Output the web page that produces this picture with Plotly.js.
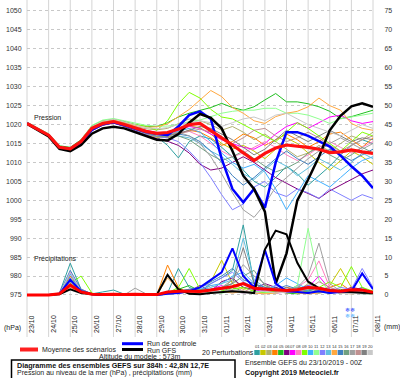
<!DOCTYPE html>
<html><head><meta charset="utf-8">
<script src="https://cdn.plot.ly/plotly-3.0.1.min.js"></script>
<style>html,body{margin:0;padding:0;background:#fff;}#c{width:400px;height:378px;}</style>
</head><body><div id="c"></div>
<script>
// ---- data ----
const hours = [0,12,24,36,48,60,72,84,96,108,120,132,144,156,168,180,192,204,216,228,240,252,264,276,288,300,312,324,336,348,360,372,384];
const dateLabels = ['23/10','24/10','25/10','26/10','27/10','28/10','29/10','30/10','31/10','01/11','02/11','03/11','04/11','05/11','06/11','07/11','08/11'];
const pertNames = ['01','02','03','04','05','06','07','08','09','10','11','12','13','14','15','16','17','18','19','20'];
const pertColors = ['#2f9fa0','#c8c800','#b0b070','#ff8000','#20c020','#800080','#ff00ff','#ff80c0','#80ff00','#40b0ff','#90ff90','#8080ff','#60c0e0','#ffa840','#4080c0','#70a080','#a0a0a0','#c09090','#808080','#c8c8c8'];

const p01 = [1020.5,1019.0,1017.4,1014.3,1013.2,1015.8,1019.4,1020.6,1021.0,1020.2,1019.3,1018.0,1016.8,1014.5,1011.2,1015.5,1017.0,1016.2,1014.0,1011.5,1008.0,1005.0,1003.5,1006.0,1009.0,1007.0,1004.0,1006.5,1009.0,1012.0,1014.5,1016.0,1015.0];
const p02 = [1020.2,1018.6,1017.0,1013.8,1013.8,1015.2,1018.6,1020.0,1020.6,1019.6,1018.4,1017.4,1016.6,1016.8,1018.0,1019.6,1019.2,1017.5,1015.0,1013.5,1014.5,1013.0,1011.0,1013.5,1016.5,1015.0,1012.5,1010.0,1008.0,1010.5,1013.0,1011.5,1009.5];
const p03 = [1020.4,1018.9,1017.3,1014.1,1013.4,1015.6,1019.2,1020.6,1021.2,1020.4,1019.5,1018.9,1018.6,1019.0,1020.2,1021.5,1021.0,1020.0,1018.5,1019.5,1018.0,1016.0,1017.5,1015.5,1013.5,1011.5,1012.5,1014.5,1013.0,1015.0,1017.0,1016.0,1018.0];
const p04 = [1020.3,1018.7,1017.1,1013.9,1013.7,1015.4,1018.8,1020.2,1020.7,1019.8,1018.6,1017.6,1016.9,1016.5,1017.5,1018.5,1018.0,1016.5,1014.5,1015.5,1017.5,1016.5,1014.5,1016.0,1017.5,1016.0,1014.0,1015.5,1017.5,1018.0,1016.0,1014.0,1016.5];
const p05 = [1020.6,1019.1,1017.5,1014.4,1014.0,1016.0,1019.6,1021.0,1021.4,1020.8,1020.0,1019.5,1019.5,1020.5,1022.0,1023.0,1023.8,1024.5,1025.6,1024.5,1023.8,1024.7,1026.5,1028.2,1026.0,1026.0,1025.5,1024.7,1023.5,1021.6,1022.1,1023.0,1023.8];
const p06 = [1020.1,1018.5,1016.9,1013.6,1013.9,1015.0,1018.4,1019.8,1020.4,1019.5,1018.3,1017.2,1016.3,1015.6,1014.5,1012.5,1009.5,1008.0,1008.5,1010.0,1011.5,1010.0,1008.0,1006.0,1004.5,1003.0,1001.8,1000.5,1002.5,1004.0,1005.5,1007.0,1008.0];
const p07 = [1020.4,1018.9,1017.2,1014.2,1013.5,1015.7,1019.1,1020.4,1020.9,1020.1,1019.2,1018.5,1017.9,1017.6,1018.4,1019.5,1019.0,1017.5,1016.0,1015.0,1014.0,1013.5,1015.0,1017.5,1019.5,1020.5,1019.0,1020.5,1022.0,1022.5,1021.0,1020.3,1020.8];
const p08 = [1020.2,1018.7,1017.1,1013.7,1013.9,1015.3,1018.7,1020.1,1020.6,1019.7,1018.7,1017.8,1017.2,1017.0,1017.8,1018.2,1017.0,1015.0,1013.0,1011.5,1012.5,1014.0,1015.5,1014.0,1012.0,1010.5,1012.0,1014.0,1015.5,1014.0,1012.5,1014.0,1015.5];
const p09 = [1020.5,1019.0,1017.3,1014.2,1013.4,1015.9,1019.5,1020.9,1021.3,1020.6,1020.0,1019.6,1018.5,1021.0,1025.5,1028.5,1027.0,1024.0,1022.0,1021.5,1020.0,1018.5,1017.0,1015.5,1018.0,1020.5,1019.0,1017.0,1015.0,1013.0,1015.5,1018.0,1017.0];
const p10 = [1020.3,1018.8,1017.2,1014.0,1013.6,1015.4,1018.9,1020.2,1020.7,1019.9,1018.8,1017.9,1017.3,1017.4,1018.2,1019.0,1018.0,1015.5,1012.5,1010.0,1008.5,1009.5,1007.5,1003.0,997.5,1002.0,1006.5,1005.0,1003.5,1006.0,1008.5,1010.5,1011.5];
const p11 = [1020.6,1019.1,1017.6,1014.5,1013.0,1016.0,1019.8,1021.2,1021.6,1021.0,1020.3,1019.8,1019.6,1019.6,1020.0,1020.8,1021.2,1022.2,1023.0,1023.5,1023.8,1023.8,1024.3,1024.3,1023.0,1023.0,1022.5,1021.5,1020.3,1021.5,1022.1,1022.5,1023.0];
const p12 = [1020.2,1018.7,1017.0,1013.8,1013.8,1015.3,1018.7,1020.0,1020.5,1019.6,1018.5,1017.5,1016.8,1016.5,1015.5,1013.0,1010.0,1006.0,1001.5,997.5,999.0,1003.5,1005.0,1002.0,1001.0,1003.0,1002.0,1000.5,1003.0,1001.5,1000.0,1001.5,1000.5];
const p13 = [1020.4,1018.9,1017.3,1014.2,1013.4,1015.7,1019.2,1020.5,1021.0,1020.2,1019.2,1018.3,1017.7,1017.5,1017.0,1016.5,1015.0,1013.0,1011.5,1009.5,1007.0,1005.5,1008.0,1010.5,1009.0,1006.5,1008.5,1011.0,1009.5,1008.0,1010.0,1012.5,1011.0];
const p14 = [1020.5,1019.0,1017.4,1014.3,1013.3,1015.8,1019.4,1020.8,1021.3,1020.6,1019.8,1019.3,1019.4,1020.2,1022.0,1024.0,1026.5,1029.0,1027.4,1024.5,1023.0,1021.0,1020.3,1022.1,1023.0,1023.5,1024.7,1027.0,1025.0,1023.8,1020.3,1019.0,1018.5];
const p15 = [1020.3,1018.8,1017.1,1013.9,1013.7,1015.5,1018.9,1020.3,1020.8,1019.9,1018.9,1018.0,1017.4,1017.2,1017.5,1017.0,1015.5,1013.0,1010.0,1006.5,1004.0,1006.0,1008.5,1011.0,1013.0,1011.0,1009.5,1011.5,1013.5,1012.0,1010.5,1012.0,1013.5];
const p16 = [1020.1,1018.6,1017.0,1013.7,1013.9,1015.1,1018.5,1019.9,1020.5,1019.6,1018.6,1017.7,1017.0,1016.7,1017.0,1016.0,1014.0,1012.0,1010.5,1011.5,1013.0,1011.0,1009.0,1007.5,1008.5,1010.0,1012.5,1014.0,1012.0,1010.5,1012.0,1014.0,1012.5];
const p17 = [1020.4,1018.9,1017.3,1014.1,1013.5,1015.6,1019.1,1020.4,1020.9,1020.1,1019.1,1018.2,1017.6,1017.5,1018.0,1017.0,1015.0,1011.5,1007.0,1002.0,997.5,995.5,999.0,1003.5,1006.0,1008.5,1011.0,1013.0,1015.0,1016.5,1015.0,1013.5,1015.0];
const p18 = [1020.2,1018.6,1017.0,1013.8,1013.8,1015.2,1018.6,1020.0,1020.5,1019.7,1018.7,1017.9,1017.4,1017.2,1017.6,1018.2,1018.8,1018.0,1016.5,1015.0,1016.5,1018.5,1019.0,1017.0,1015.5,1016.5,1018.0,1016.5,1014.5,1013.0,1014.5,1016.0,1017.0];
const p19 = [1020.3,1018.8,1017.2,1014.0,1013.6,1015.5,1019.0,1020.3,1020.8,1020.0,1019.0,1018.1,1017.5,1017.3,1017.6,1018.5,1019.5,1019.0,1017.5,1016.0,1014.0,1012.0,1013.5,1016.0,1018.5,1017.0,1015.5,1017.0,1018.5,1017.0,1015.5,1016.5,1016.0];
const p20 = [1020.5,1019.0,1017.4,1014.3,1013.3,1015.9,1019.5,1020.9,1021.4,1020.7,1019.9,1019.2,1018.9,1019.2,1020.0,1020.5,1021.0,1020.5,1019.5,1020.5,1021.5,1022.0,1021.0,1022.5,1023.0,1021.5,1020.0,1019.0,1018.0,1017.0,1018.5,1020.0,1019.0];
const pressControl = [1020.3,1018.8,1017.1,1013.9,1013.4,1015.2,1018.6,1020.1,1020.6,1019.8,1018.8,1018.0,1017.6,1017.2,1019.5,1022.5,1023.5,1021.5,1011.0,1003.0,999.5,1003.0,998.0,1010.0,1018.0,1018.0,1017.0,1015.5,1014.2,1011.8,1009.0,1006.5,1003.2];
const pressGFS = [1020.2,1018.6,1016.9,1013.6,1013.0,1014.6,1017.6,1019.0,1019.4,1019.0,1018.0,1017.0,1016.0,1015.8,1017.5,1020.5,1022.8,1021.8,1019.0,1013.0,1006.5,1003.0,997.0,978.0,986.0,1000.0,1005.5,1011.5,1018.5,1022.3,1024.8,1025.6,1024.7];
const pressMean = [1020.3,1018.8,1017.2,1014.0,1013.6,1015.5,1019.0,1020.3,1020.8,1020.0,1019.0,1018.2,1017.7,1017.9,1018.8,1020.0,1020.3,1018.3,1016.5,1014.6,1012.5,1010.5,1012.4,1013.8,1014.6,1014.4,1014.0,1013.5,1012.6,1012.8,1013.3,1012.8,1012.4];

const r01 = [0,0,0,0.5,8.4,1.5,0.3,0.8,1.3,0.2,0.3,0.1,0,0.5,7.0,2.0,1.0,3.0,4.5,6.5,18.5,3.0,1.5,2.0,1.0,2.5,1.0,0.5,1.5,0.8,1.0,2.0,0.5];
const r02 = [0,0,0,0.3,4.0,1.0,0.2,0,0,0,0,0,0,0.2,0.5,1.0,2.0,3.5,9.2,3.0,1.5,2.0,1.0,0.5,1.0,2.0,1.5,0.8,2.5,7.0,2.0,1.0,0.5];
const r03 = [0,0,0,0.2,3.0,0.8,0.1,0,0,0,0.2,0,0,0.3,1.0,1.5,1.0,2.5,1.5,4.0,2.0,1.0,2.5,1.5,0.5,1.0,3.0,1.5,0.5,1.0,1.5,0.5,0.3];
const r04 = [0,0,0,0.4,5.0,1.2,0.3,0,0,0,0,0,0,7.9,2.0,0.5,0.5,1.0,2.0,1.5,3.0,2.5,1.0,0.8,2.0,1.5,0.5,1.0,2.0,3.0,1.0,0.5,0.8];
const r05 = [0,0,0,0.3,3.5,0.8,0.2,0,0.3,0,0,0,0,0.5,1.5,2.5,1.0,0.5,1.0,2.0,1.0,0.5,0.8,1.2,0.5,0.3,1.0,0.8,0.5,1.5,0.8,0.5,0.3];
const r06 = [0,0,0,0.2,4.5,0.5,0.1,0,0,0,0,0,0,0.2,0.8,1.0,2.5,1.0,3.5,4.5,2.0,1.5,3.0,2.0,1.0,1.5,2.5,1.0,0.5,1.0,2.0,1.5,0.8];
const r07 = [0,0,0,0.5,6.0,1.0,0.2,0,0,0,0,0,0,0.3,1.0,0.5,0.5,1.5,2.5,1.0,0.5,1.0,1.5,0.5,0.8,1.0,2.0,5.0,1.5,0.5,1.0,0.5,0.3];
const r08 = [0,0,0,0.4,4.0,1.5,0.2,0,0,0,0,0,0,0.2,0.5,1.0,0.5,1.0,1.5,2.5,1.0,0.5,1.0,0.5,1.5,2.0,4.0,9.0,2.0,1.0,0.5,1.0,0.5];
const r09 = [0,0,0,0.3,3.0,5.0,0.5,0,0,0,0,0,0,0.5,2.0,7.0,1.5,0.5,1.0,1.5,2.0,1.0,0.5,1.0,1.5,0.5,1.0,2.0,3.5,2.0,7.5,2.0,1.0];
const r10 = [0,0,0,0.3,5.5,1.0,0.2,0,0,0,0,0,0,0.2,0.8,1.0,1.5,2.5,3.0,5.0,6.0,3.0,1.5,2.5,4.5,3.0,1.5,1.0,0.5,1.0,0.8,1.5,0.5];
const r11 = [0,0,0,0.2,2.5,0.5,0.1,0,0,0,0,0,0,0.1,0.5,1.0,0.5,0.8,0.5,1.0,0.5,1.0,0.8,0.5,1.0,2.5,17.6,4.0,1.0,0.5,0.8,0.5,0.3];
const r12 = [0,0,0,0.3,3.5,1.0,0.2,0,0,0,0,0,0,0.2,0.5,1.0,2.0,3.0,4.5,6.0,3.5,2.0,1.0,2.5,1.5,1.0,2.5,1.5,1.0,2.0,1.5,7.0,2.0];
const r13 = [0,0,0,0.4,4.5,1.2,0.3,0,0,0,0,0,0,0.2,1.0,1.5,1.0,2.0,3.0,4.0,15.0,4.0,2.0,1.5,1.0,2.0,1.0,0.5,1.0,0.5,1.0,0.8,0.5];
const r14 = [0,0,0,0.2,2.0,0.5,0.1,0,0,0,0,0,0,4.5,1.5,0.5,0.3,0.5,1.0,0.5,1.0,0.5,0.3,0.5,1.0,0.5,0.3,0.5,1.0,0.5,0.3,0.5,0.3];
const r15 = [0,0,0,0.5,6.5,1.5,0.3,0,0,0,0,0,0,0.3,1.0,1.5,2.0,3.5,5.0,7.0,4.0,3.0,2.0,1.5,2.5,1.5,1.0,2.0,1.5,1.0,0.5,1.0,0.5];
const r16 = [0,0,0,0.3,3.0,0.8,0.2,0,0,0,0,0,0,0.2,0.5,1.0,1.5,1.0,2.0,3.0,5.0,6.5,2.5,1.5,1.0,2.0,1.5,1.0,0.5,0.8,0.5,0.3,0.2];
const r17 = [0,0,0,0.2,2.5,0.5,0.2,0,0,0,1.8,0.3,0,0.2,0.5,0.8,1.0,1.5,2.0,4.0,8.0,5.0,3.0,1.0,0.8,2.0,5.0,13.7,3.0,1.0,0.5,0.8,0.3];
const r18 = [0,0,0,0.3,3.5,1.0,0.2,0,0,0,0,0,0,0.2,0.5,0.8,0.5,1.0,1.5,1.0,0.8,2.0,1.5,1.0,0.5,1.0,1.5,3.5,2.0,1.0,1.5,0.8,0.5];
const r19 = [0,0,0,0.4,4.0,1.0,0.2,0,0,0,0,0,0,0.3,0.8,1.0,0.8,1.5,2.0,3.0,12.5,3.0,1.5,1.0,2.0,1.0,0.5,1.5,1.0,0.5,0.8,0.5,0.3];
const r20 = [0,0,0,0.3,6.0,1.0,0.2,0,0,0,0,0,0,0.2,0.5,0.8,0.5,1.0,0.8,1.5,1.0,0.5,1.0,0.5,0.8,1.0,0.5,2.0,1.0,0.5,0.3,0.5,0.3];
const rainControl = [0,0,0,0.3,4.0,1.0,0.2,0,0,0,0,0,0,0.3,0.5,1.0,2.0,4.0,6.0,12.3,5.0,2.0,11.9,3.0,1.0,0.8,0.5,1.0,0.5,0.8,1.0,5.7,1.5];
const rainGFS = [0,0,0,0.2,1.5,0.5,0.2,0,0,0,0,0,0,5.3,1.5,0.3,0.2,0.5,0.8,1.0,0.8,0.5,12.0,17.0,16.0,8.5,3.5,1.8,1.2,0.9,0.8,0.6,0.5];
const rainMean = [0,0,0,0.3,2.6,0.8,0.2,0.1,0.2,0.1,0.2,0.1,0.1,0.8,1.0,1.0,0.9,1.3,1.8,2.2,3.0,1.8,1.6,1.4,1.2,1.4,2.0,1.8,1.2,1.0,1.4,1.3,0.7];

const pertPress = [p01,p02,p03,p04,p05,p06,p07,p08,p09,p10,p11,p12,p13,p14,p15,p16,p17,p18,p19,p20];
const pertRain = [r01,r02,r03,r04,r05,r06,r07,r08,r09,r10,r11,r12,r13,r14,r15,r16,r17,r18,r19,r20];

// ---- layout helpers (pixel -> paper) ----
const ML = 27, MR = 27, MT = 0, MB = 80, PW = 400 - ML - MR, PH = 378 - MT - MB;
const px = x => (x - ML) / PW;
const py = y => (MT + PH - y) / PH;

const traces = [];
pertRain.forEach((r, i) => traces.push({x: hours, y: r, yaxis: 'y2', mode: 'lines', line: {color: pertColors[i], width: 1}, hoverinfo: 'skip', showlegend: false}));
pertPress.forEach((p, i) => traces.push({x: hours, y: p, mode: 'lines', line: {color: pertColors[i], width: 1}, hoverinfo: 'skip', showlegend: false}));
traces.push({x: hours, y: rainControl, yaxis: 'y2', mode: 'lines', line: {color: '#0000ff', width: 2}, showlegend: false});
traces.push({x: hours, y: rainGFS, yaxis: 'y2', mode: 'lines', line: {color: '#000000', width: 2}, showlegend: false});
traces.push({x: hours, y: pressControl, mode: 'lines', line: {color: '#0000ff', width: 2.5}, showlegend: false});
traces.push({x: hours, y: pressGFS, mode: 'lines', line: {color: '#000000', width: 2.5}, showlegend: false});
traces.push({x: hours, y: rainMean, yaxis: 'y2', mode: 'lines', line: {color: '#ff0000', width: 3}, showlegend: false});
traces.push({x: hours, y: pressMean, mode: 'lines', line: {color: '#ff1010', width: 3.2}, showlegend: false});

const F = 'Liberation Sans, Arial, sans-serif';
const txt = '#222';
const shapes = [];
const annotations = [];
// vertical day grid lines extending into the label area
dateLabels.forEach((d, i) => {
  const xp = i / (dateLabels.length - 1);
  shapes.push({type: 'line', xref: 'paper', yref: 'paper', x0: xp, x1: xp, y0: py(337), y1: 1, line: {color: '#d4d4d4', width: 1}, layer: 'below'});
  annotations.push({xref: 'paper', yref: 'paper', x: xp + 4 / PW, y: py(324), text: d, textangle: -90, showarrow: false, xanchor: 'center', yanchor: 'middle', font: {family: F, size: 7, color: txt}});
});
function label(x, y, t, opts) {
  annotations.push(Object.assign({xref: 'paper', yref: 'paper', x: px(x), y: py(y), text: t, showarrow: false, xanchor: 'left', yanchor: 'middle', font: {family: F, size: 7, color: txt}}, opts || {}));
}
label(32, 117, 'Pression');
label(32, 258.5, 'Précipitations');
label(2, 327.5, '(hPa)');
label(382, 327, '(mm)');
label(40, 349.5, 'Moyenne des scénarios');
label(145, 343.5, 'Run de controle');
label(145, 350, 'Run GFS');
label(97, 356.5, 'Altitude du modele : 573m');
label(200, 352, '20 Perturbations');
label(15, 365.5, '<b>Diagramme des ensembles GEFS sur 384h : 42,8N 12,7E</b>', {font: {family: F, size: 7.2, color: '#111'}});
label(15, 373, 'Pression au niveau de la mer (hPa) , précipitations (mm)');
label(243, 362, 'Ensemble GEFS du 23/10/2019 - 00Z');
label(243, 372.5, '<b>Copyright 2019 Meteociel.fr</b>', {font: {family: F, size: 7.2, color: '#111'}});
label(343, 309.5, '❄❄', {font: {family: 'DejaVu Sans', size: 6, color: '#3050ff'}});
label(343, 315.5, '❄❄', {font: {family: 'DejaVu Sans', size: 6, color: '#60b8ff'}});

// legend line samples
shapes.push({type: 'line', xref: 'paper', yref: 'paper', x0: px(20), x1: px(38), y0: py(349.5), y1: py(349.5), line: {color: '#ff2020', width: 4}});
shapes.push({type: 'line', xref: 'paper', yref: 'paper', x0: px(122), x1: px(143), y0: py(343.7), y1: py(343.7), line: {color: '#0000ff', width: 3}});
shapes.push({type: 'line', xref: 'paper', yref: 'paper', x0: px(122), x1: px(143), y0: py(349.5), y1: py(349.5), line: {color: '#000000', width: 3}});
// perturbation colour boxes
const bx0 = 254.3, bw = (373.3 - 254.3) / pertColors.length;
pertColors.forEach((c, i) => {
  shapes.push({type: 'rect', xref: 'paper', yref: 'paper', x0: px(bx0 + i * bw), x1: px(bx0 + (i + 1) * bw - 0.5), y0: py(355), y1: py(350), fillcolor: c, line: {width: 0}});
  annotations.push({xref: 'paper', yref: 'paper', x: px(bx0 + (i + 0.5) * bw), y: py(346.8), text: pertNames[i], showarrow: false, xanchor: 'center', yanchor: 'middle', font: {family: F, size: 4.2, color: '#333'}});
});
// title box
shapes.push({type: 'rect', xref: 'paper', yref: 'paper', x0: px(11.5), x1: px(235), y0: py(380), y1: py(360), line: {color: '#000', width: 1.5}});

const layout = {
  width: 400, height: 378,
  margin: {l: ML, r: MR, t: MT, b: MB, pad: 0},
  paper_bgcolor: '#fff', plot_bgcolor: '#fff',
  showlegend: false,
  xaxis: {range: [0, 384], showgrid: false, zeroline: false, showticklabels: false, ticks: '', showline: false, fixedrange: true},
  yaxis: {range: [974.2, 1052.9], tick0: 975, dtick: 5, showgrid: true, gridcolor: '#c8c8c8', griddash: 'dot', gridwidth: 1, zeroline: false, showline: false,
          ticks: 'outside', ticklen: 3, tickcolor: 'rgba(0,0,0,0)', tickfont: {family: F, size: 7, color: '#333'}},
  yaxis2: {range: [-0.8, 77.9], tick0: 0, dtick: 5, overlaying: 'y', side: 'right', showgrid: false, zeroline: false, showline: false,
           ticks: 'outside', ticklen: 9, tickcolor: 'rgba(0,0,0,0)', tickfont: {family: F, size: 7, color: '#333'}},
  shapes: shapes,
  annotations: annotations
};
Plotly.newPlot('c', traces, layout, {displayModeBar: false, staticPlot: true});
</script>
</body></html>
